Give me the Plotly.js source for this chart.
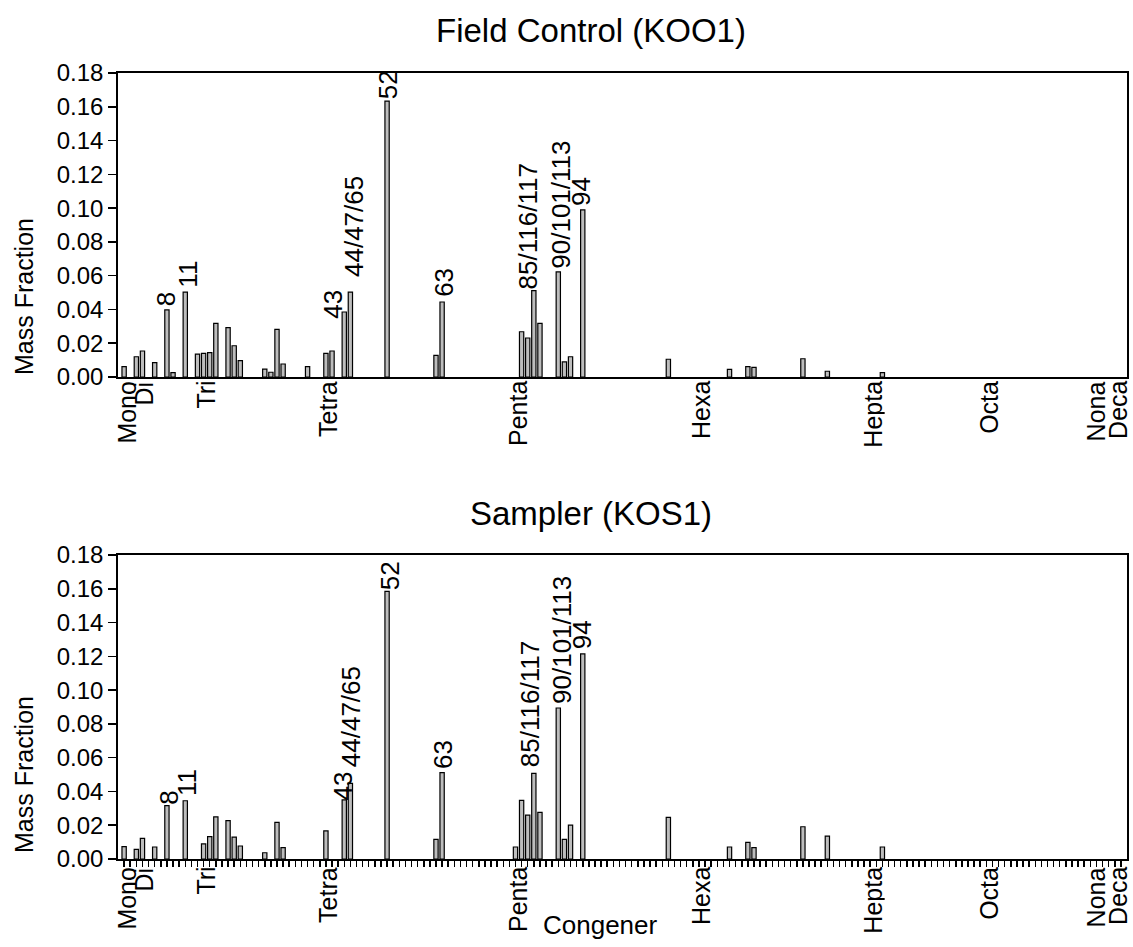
<!DOCTYPE html>
<html>
<head>
<meta charset="utf-8">
<script src="https://cdn.plot.ly/plotly-3.0.1.min.js"></script>
<style>html,body{margin:0;padding:0;background:#fff;}#chart{width:1133px;height:947px;}</style>
</head>
<body>
<div id="chart"></div>
<script>
// ---- data ----
var nCongeners = 164; // congener (coelution group) positions along x
var homologNames = ["Mono","Di","Tri","Tetra","Penta","Hexa","Hepta","Octa","Nona","Deca"];
var homologStart = [0, 3, 13, 33, 64, 94, 122, 141, 159, 163];

// Field Control (KOO1): congener position index and mass fraction
var kooIdx  = [0, 2, 3, 5, 7, 8, 10, 12, 13, 14, 15, 17, 18, 19, 23, 24, 25, 26, 30, 33, 34, 36, 37, 43, 51, 52, 65, 66, 67, 68, 71, 72, 73, 75, 89, 99, 102, 103, 111, 115, 124];
var kooMass = [0.0061, 0.0120, 0.0154, 0.0085, 0.0397, 0.0026, 0.0503, 0.0136, 0.0140, 0.0144, 0.0318, 0.0292, 0.0185, 0.0097, 0.0047, 0.0028, 0.0282, 0.0077, 0.0061, 0.0140, 0.0154, 0.0385, 0.0503, 0.1634, 0.0128, 0.0444, 0.0268, 0.0231, 0.0511, 0.0318, 0.0622, 0.0089, 0.0120, 0.0989, 0.0105, 0.0045, 0.0061, 0.0057, 0.0108, 0.0034, 0.0026];

// Sampler (KOS1)
var kosIdx  = [0, 2, 3, 5, 7, 10, 13, 14, 15, 17, 18, 19, 23, 25, 26, 33, 36, 37, 43, 51, 52, 64, 65, 66, 67, 68, 71, 72, 73, 75, 89, 99, 102, 103, 111, 115, 124];
var kosMass = [0.0073, 0.0057, 0.0122, 0.0071, 0.0316, 0.0345, 0.0089, 0.0132, 0.0250, 0.0227, 0.0130, 0.0077, 0.0037, 0.0217, 0.0067, 0.0166, 0.0350, 0.0448, 0.1585, 0.0116, 0.0511, 0.0071, 0.0347, 0.0260, 0.0507, 0.0276, 0.0894, 0.0116, 0.0200, 0.1214, 0.0247, 0.0071, 0.0099, 0.0067, 0.0191, 0.0136, 0.0071];

// labelled congeners: text and the position index of the bar they mark
var peakLabels = ["8", "11", "43", "44/47/65", "52", "63", "85/116/117", "90/101/113", "94"];
var peakIdx    = [7, 10, 36, 37, 43, 52, 67, 71, 75];

// ---- layout helpers ----
var W = 1133, H = 947;
var FONT = "Liberation Sans, Arial, sans-serif";
function px(x){ return x / W; }
function py(y){ return 1 - y / H; }

var allTicks = [];
for (var i = 0; i < nCongeners; i++) allTicks.push(i);

var barStyle = {color: "#bdbdbd", line: {color: "#000", width: 1.2}};
var traces = [
  {type: "bar", x: kooIdx, y: kooMass, width: 0.7, marker: barStyle, xaxis: "x", yaxis: "y", hoverinfo: "x+y"},
  {type: "bar", x: kosIdx, y: kosMass, width: 0.7, marker: barStyle, xaxis: "x2", yaxis: "y2", hoverinfo: "x+y"}
];

var xBase = {
  range: [-1, 164], showgrid: false, zeroline: false, showline: true, mirror: true,
  linecolor: "#000", linewidth: 1.8, showticklabels: false,
  domain: [px(118), px(1127)]
};
var yBase = {
  range: [0, 0.18], dtick: 0.02, tick0: 0, tickformat: ".2f", showgrid: false, zeroline: false,
  showline: true, mirror: true, linecolor: "#000", linewidth: 1.8, ticks: "outside", ticklen: 8,
  tickcolor: "#000", tickwidth: 1.5, tickfont: {family: FONT, size: 24, color: "#000"}
};

var xaxis1 = Object.assign({}, xBase, {anchor: "y", ticks: ""});
var xaxis2 = Object.assign({}, xBase, {anchor: "y2", ticks: "outside", ticklen: 6, tickcolor: "#000", tickwidth: 1.5, tickmode: "array", tickvals: allTicks});
var yaxis1 = Object.assign({}, yBase, {anchor: "x", domain: [py(377), py(73)]});
var yaxis2 = Object.assign({}, yBase, {anchor: "x2", domain: [py(859), py(555)]});

// label placement: [x offset in positions, pixel shift above bar top]
var labelPlaceTop = [[-0.1, 3], [0.3, 3], [-1.8, -8], [0.5, 14], [0.1, 1], [0.2, 4], [-1.0, 0], [0.4, 2], [-0.2, 3]];
var labelPlaceBot = [[0.2, 0], [0.4, 4], [-0.2, -2], [0.0, 15], [0.4, 0], [0.1, 3], [-0.5, 5], [0.6, 3], [0.0, 4]];

var annotations = [];
function addLabels(idxArr, massArr, place, xr, yr) {
  for (var j = 0; j < peakLabels.length; j++) {
    var b = idxArr.indexOf(peakIdx[j]);
    annotations.push({
      text: peakLabels[j], x: peakIdx[j] + place[j][0], y: massArr[b], xref: xr, yref: yr,
      textangle: -90, xanchor: "center", yanchor: "bottom", yshift: place[j][1], showarrow: false,
      font: {family: FONT, size: 26, color: "#000"}, borderpad: 0
    });
  }
}
addLabels(kooIdx, kooMass, labelPlaceTop, "x", "y");
addLabels(kosIdx, kosMass, labelPlaceBot, "x2", "y2");

// homolog group labels under each x axis
var homologShift = [2, 2, 2, 2, 2, 2, 2, 2, 0, -3];
function addHomologs(xr, yTopPx) {
  for (var j = 0; j < homologNames.length; j++) {
    annotations.push({
      text: homologNames[j], x: homologStart[j], xref: xr, y: py(yTopPx), yref: "paper",
      xshift: homologShift[j], textangle: -90, xanchor: "center", yanchor: "top", showarrow: false,
      height: 24, font: {family: FONT, size: 25, color: "#000"}, borderpad: 0
    });
  }
}
addHomologs("x", 380);
addHomologs("x2", 866);

function paperText(t, x, y, size, angle) {
  return {text: t, xref: "paper", yref: "paper", x: px(x), y: py(y), xanchor: "center", yanchor: "middle",
          showarrow: false, textangle: angle || 0, font: {family: FONT, size: size, color: "#000"}};
}
annotations.push(paperText("Field Control (KOO1)", 591, 31, 33));
annotations.push(paperText("Sampler (KOS1)", 591, 513, 33));
annotations.push(paperText("Mass Fraction", 24, 297, 25, -90));
annotations.push(paperText("Mass Fraction", 24, 775, 25, -90));
annotations.push(paperText("Congener", 600, 925, 26));

var layout = {
  width: W, height: H, margin: {l: 0, r: 0, t: 0, b: 0},
  paper_bgcolor: "#fff", plot_bgcolor: "#fff", showlegend: false, bargap: 0,
  font: {family: FONT, color: "#000"},
  xaxis: xaxis1, yaxis: yaxis1, xaxis2: xaxis2, yaxis2: yaxis2,
  annotations: annotations
};

Plotly.newPlot("chart", traces, layout, {staticPlot: true});
</script>
</body>
</html>
